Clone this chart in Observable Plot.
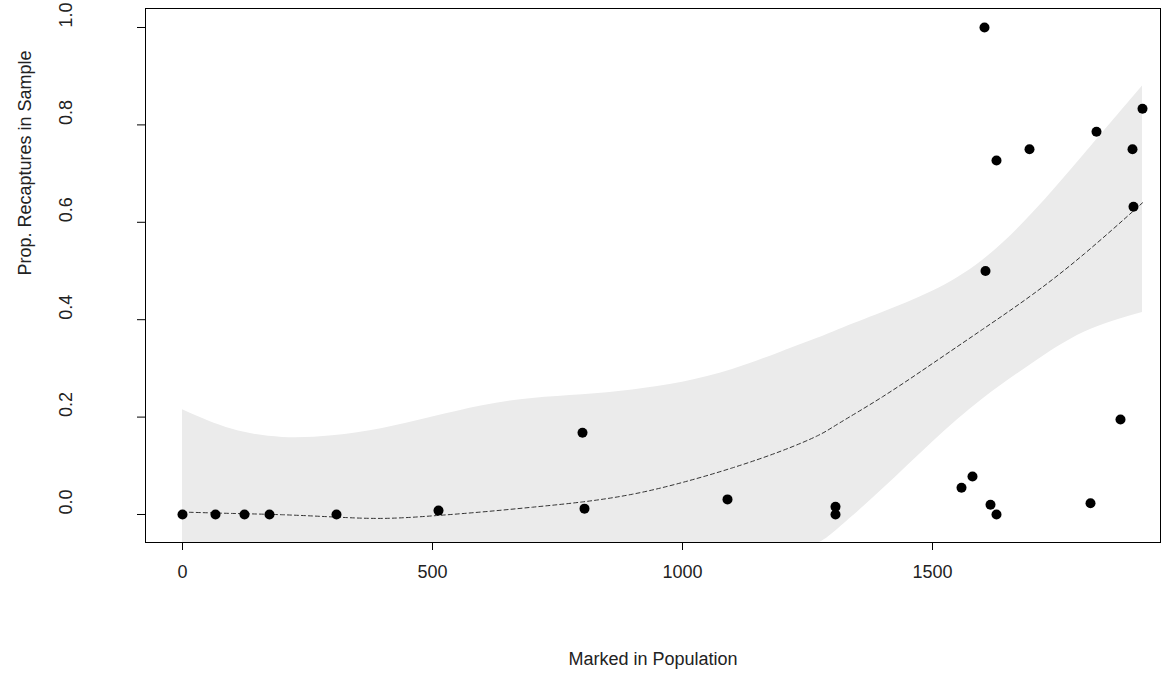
<!DOCTYPE html>
<html><head><meta charset="utf-8">
<script src="https://cdn.jsdelivr.net/npm/d3@7"></script>
<script src="https://cdn.jsdelivr.net/npm/@observablehq/plot@0.6"></script>
<style>body{margin:0;background:#fff}</style>
</head><body><div id="c"></div>
<script>
const px = [0,66,124,174,308,512,800,804,1090,1306,1306,1558,1580,1604,1606,1616,1628,1628,1694,1816,1828,1876,1900,1902,1920];
const py = [0,0,0,0,0,0.008,0.168,0.012,0.031,0.016,0,0.055,0.078,1.0,0.5,0.02,0,0.727,0.75,0.023,0.786,0.195,0.75,0.632,0.833];
const fitX = [0,100,200,300,400,500,600,700,800,900,1000,1100,1200,1280,1300,1400,1500,1600,1700,1800,1920];
const fitY = [0.005,0.002,0,-0.005,-0.01,-0.003,0.005,0.015,0.025,0.04,0.065,0.095,0.13,0.165,0.18,0.24,0.31,0.38,0.45,0.53,0.64];
const upper = [0.215,0.17,0.155,0.16,0.175,0.2,0.225,0.24,0.245,0.255,0.27,0.295,0.335,0.365,0.375,0.415,0.455,0.515,0.615,0.735,0.88];
const lower = [-0.2,-0.21,-0.22,-0.22,-0.22,-0.22,-0.21,-0.2,-0.19,-0.17,-0.15,-0.12,-0.09,-0.057,-0.04,0.05,0.15,0.24,0.31,0.38,0.415];
const xTicks = [0,500,1000,1500];
const yTicks = [0,0.2,0.4,0.6,0.8,1.0];

const pts = px.map((x,i)=>({x,y:py[i]}));
const fit = fitX.map((x,i)=>({x,y:fitY[i],lo:lower[i],hi:upper[i]}));

const chart = Plot.plot({
  width:1175, height:675,
  marginLeft:145, marginRight:15, marginTop:8, marginBottom:133,
  style:{fontFamily:"Liberation Sans, Arial, sans-serif", fontSize:"18px", color:"#000"},
  x:{domain:[-74,1956], label:null, axis:null},
  y:{domain:[-0.0575,1.039], label:null, axis:null},
  marks:[
    Plot.areaY(fit,{x:"x",y1:"lo",y2:"hi",fill:"#ebebeb",curve:"basis",clip:true}),
    Plot.line(fit,{x:"x",y:"y",stroke:"#333",strokeDasharray:"4,3",strokeWidth:1,curve:"basis",clip:true}),
    Plot.dot(pts,{x:"x",y:"y",r:5,fill:"#000"}),
    Plot.frame({stroke:"#000"}),
    Plot.axisX(xTicks,{tickSize:8,tickPadding:0,fontSize:18,label:null,anchor:"bottom",tickFormat:()=>""}),
    Plot.text(xTicks,{x:d=>d,frameAnchor:"bottom",dy:35,text:d=>String(d),fontSize:18,fill:"#222"}),
    Plot.axisY(yTicks,{anchor:"left",tickSize:8,tickPadding:0,fontSize:18,label:null,tickFormat:()=>""}),
    Plot.text(yTicks,{y:d=>d,frameAnchor:"left",text:d=>d.toFixed(1),rotate:-90,dx:-79,fontSize:18,fill:"#222"}),
    Plot.text(["Marked in Population"],{frameAnchor:"bottom",dy:122,fontSize:18,fill:"#222"}),
    Plot.text(["Prop. Recaptures in Sample"],{frameAnchor:"left",dx:-120,rotate:-90,fontSize:18,fill:"#222"})
  ]
});
document.getElementById("c").append(chart);
</script></body></html>
